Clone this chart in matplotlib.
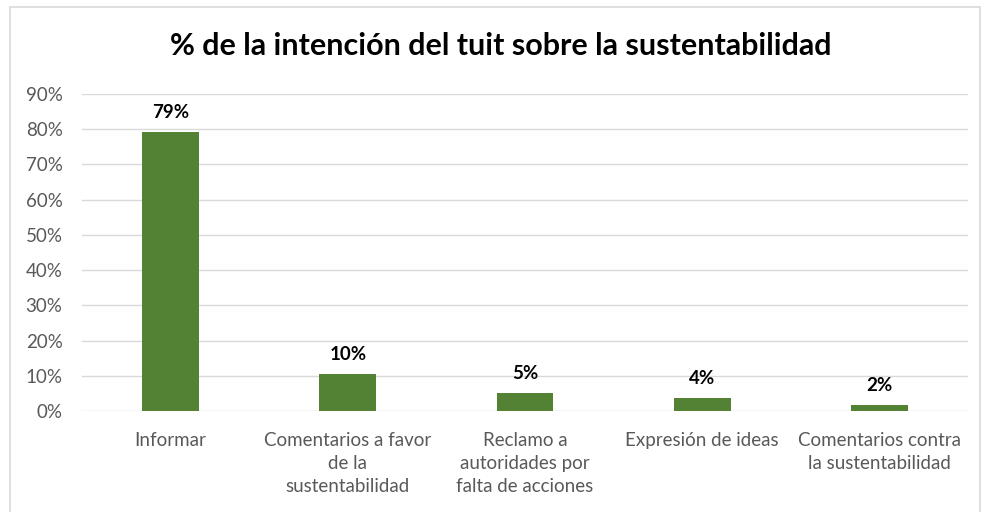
import matplotlib.pyplot as plt
from matplotlib.patches import Rectangle
from matplotlib.ticker import PercentFormatter

# Data
categories = ['Informar',
              'Comentarios a favor\nde la\nsustentabilidad',
              'Reclamo a\nautoridades por\nfalta de acciones',
              'Expresión de ideas',
              'Comentarios contra\nla sustentabilidad']
values = [79.2, 10.5, 5.0, 3.6, 1.7]
labels = ['79%', '10%', '5%', '4%', '2%']

plt.rcParams['font.family'] = ['Lato', 'DejaVu Sans']

fig = plt.figure(figsize=(9.82, 5.12), dpi=100)
ax = fig.add_axes([82 / 982, 101 / 512, 886 / 982, 317 / 512])

x = range(len(categories))
bars = ax.bar(x, values, width=0.32, color='#548235', zorder=3)

for bar, lab in zip(bars, labels):
    ax.annotate(lab, (bar.get_x() + bar.get_width() / 2, bar.get_height()),
                xytext=(0, 8), textcoords='offset points',
                ha='center', va='bottom', fontsize=13.5, fontweight='bold',
                color='#000000')

ax.set_ylim(0, 90)
ax.set_xlim(-0.5, len(categories) - 0.5)
ax.set_yticks(range(0, 91, 10))
ax.yaxis.set_major_formatter(PercentFormatter(decimals=0))
ax.set_xticks(list(x))
ax.set_xticklabels(categories, linespacing=1.45)
ax.tick_params(axis='both', length=0, labelsize=13.5, labelcolor='#595959')
ax.tick_params(axis='x', pad=15)
ax.tick_params(axis='y', pad=14)
ax.grid(axis='y', color='#d9d9d9', linewidth=1, zorder=0)
for s in ax.spines.values():
    s.set_visible(False)

fig.text(501 / 982, 1 - 46 / 512, '% de la intención del tuit sobre la sustentabilidad',
         ha='center', va='center', fontsize=22, fontweight='bold', color='#000000')

# light frame around the chart area
fig.patches.append(Rectangle((10 / 982, -0.01), 970 / 982, 1 - 7 / 512 + 0.01,
                             transform=fig.transFigure, fill=False,
                             edgecolor='#d9d9d9', linewidth=1.2))

fig.savefig('out.png', dpi=100)
